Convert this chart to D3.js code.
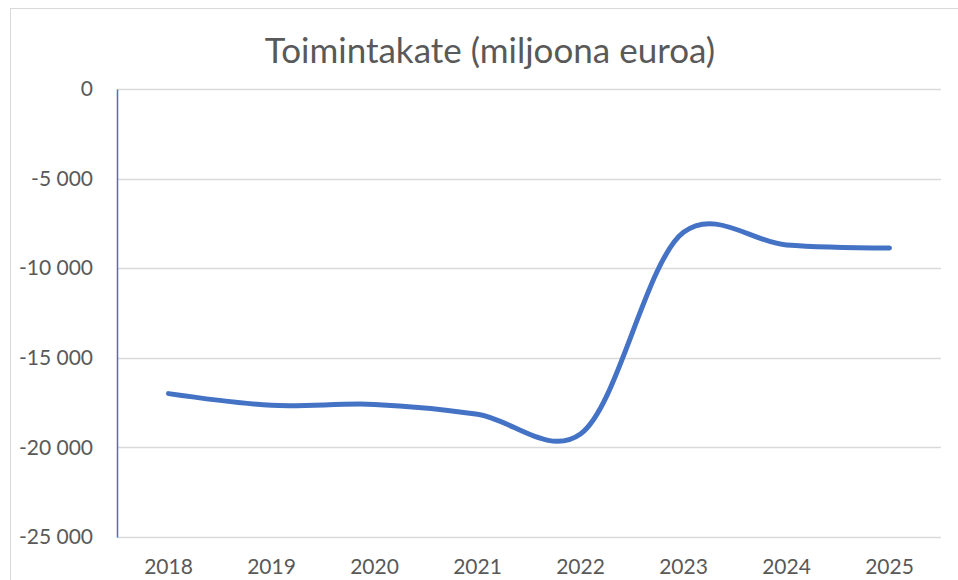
<!DOCTYPE html>
<html>
<head>
<meta charset="utf-8">
<script src="https://cdn.jsdelivr.net/npm/d3@7"></script>
<style>
  body { margin: 0; background: #fff; }
  svg { display: block; font-family: Lato, "Open Sans", sans-serif; }
</style>
</head>
<body>
<script>
// chart data
const years = ["2018", "2019", "2020", "2021", "2022", "2023", "2024", "2025"];
const toimintakate = [-17000, -17650, -17600, -18150, -19250, -8000, -8700, -8870];
const yTicks = [0, -5000, -10000, -15000, -20000, -25000];
const title = "Toimintakate (miljoona euroa)";

const width = 958, height = 580;
const margin = {top: 89, right: 17, bottom: 43, left: 117};
const innerW = width - margin.left - margin.right;
const innerH = height - margin.top - margin.bottom;

const svg = d3.select("body").append("svg")
    .attr("width", width)
    .attr("height", height);

// chart frame (only top/left edges are in view)
svg.append("rect")
    .attr("x", 10.5).attr("y", 8.5)
    .attr("width", 980).attr("height", 600)
    .attr("fill", "none")
    .attr("stroke", "#d9d9d9");

svg.append("text")
    .attr("x", 490)
    .attr("y", 63)
    .attr("text-anchor", "middle")
    .attr("font-size", 35)
    .attr("fill", "#595959")
    .text(title);

const g = svg.append("g")
    .attr("transform", "translate(" + margin.left + "," + margin.top + ")");

const x = d3.scaleBand().domain(years).range([0, innerW]);
const y = d3.scaleLinear().domain([-25000, 0]).range([innerH, 0]);

const fmt = v => d3.format(",")(v).replace(/,/g, " ").replace("−", "-");

// gridlines
g.append("g")
    .selectAll("line")
    .data(yTicks)
    .join("line")
    .attr("x1", 0).attr("x2", innerW)
    .attr("y1", d => Math.round(y(d)) + 0.5)
    .attr("y2", d => Math.round(y(d)) + 0.5)
    .attr("stroke", "#d9d9d9")
    .attr("stroke-width", 1.3);

// y axis
const yAxis = g.append("g")
    .call(d3.axisLeft(y).tickValues(yTicks).tickSize(0).tickPadding(24).tickFormat(fmt));
yAxis.select(".domain").attr("stroke", "#4472c4").attr("stroke-width", 1.5);
yAxis.selectAll("text").attr("font-size", 21).attr("fill", "#595959").attr("font-family", "Lato, sans-serif");

// x axis labels
const xAxis = g.append("g")
    .attr("transform", "translate(0," + innerH + ")")
    .call(d3.axisBottom(x).tickSize(0).tickPadding(22));
xAxis.select(".domain").remove();
xAxis.selectAll("text").attr("font-size", 21).attr("fill", "#595959").attr("font-family", "Lato, sans-serif");

// smoothed line
const line = d3.line()
    .x((d, i) => x(years[i]) + x.bandwidth() / 2)
    .y(d => y(d))
    .curve(d3.curveCatmullRom.alpha(0.2));

g.append("path")
    .datum(toimintakate)
    .attr("fill", "none")
    .attr("stroke", "#4472c4")
    .attr("stroke-width", 5)
    .attr("stroke-linecap", "round")
    .attr("d", line);
</script>
</body>
</html>
